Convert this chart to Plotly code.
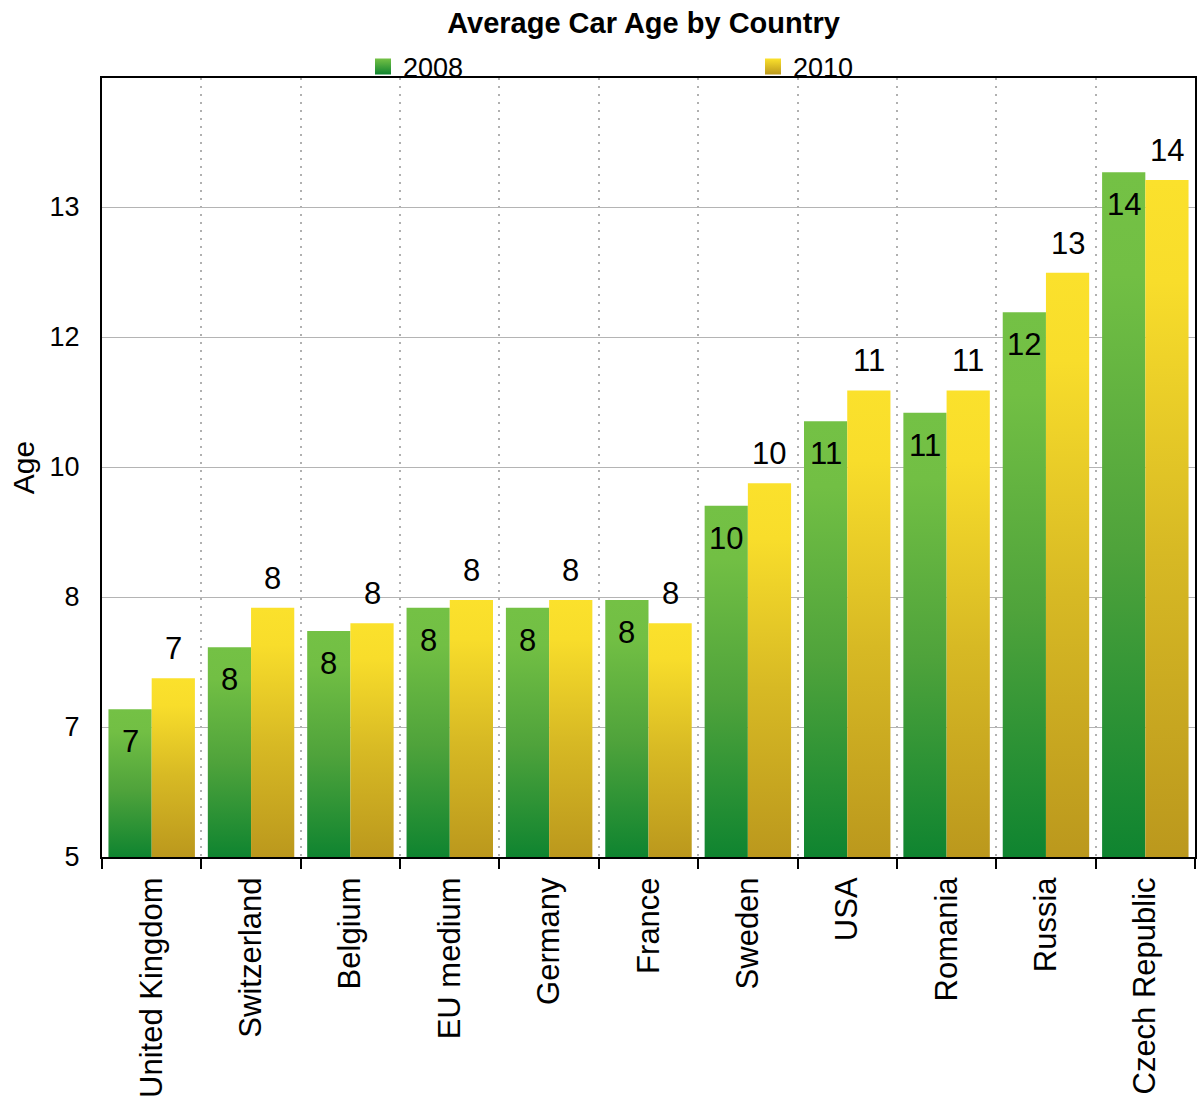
import plotly.graph_objects as go

# Average car age (years) per country
countries = ["United Kingdom", "Switzerland", "Belgium", "EU medium", "Germany",
             "France", "Sweden", "USA", "Romania", "Russia", "Czech Republic"]
age_2008 = [6.91, 7.71, 7.92, 8.22, 8.22, 8.32, 9.54, 10.63, 10.74, 12.04, 13.85]
age_2010 = [7.31, 8.22, 8.02, 8.32, 8.32, 8.02, 9.83, 11.03, 11.03, 12.55, 13.75]
years = ["2008", "2010"]

# value axis: starts at 5, gridlines every 1.68 years, labels rounded
Y_MIN = 5
Y_STEP = 1.68
Y_MAX = 15.067

FONT = "Arial, 'Liberation Sans', sans-serif"
BAR_W = 0.435  # width of one bar, in category units

green_scale = [[0, "#0f8430"], [0.45, "#4fa33b"], [0.85, "#72bf44"], [1, "#74c145"]]
gold_scale = [[0, "#bb981d"], [0.45, "#d7b924"], [0.85, "#f8dd2b"], [1, "#fbe12c"]]

fig = go.Figure()
annotations = []

series = [
    (years[0], age_2008, green_scale, -BAR_W, "legend", "top", -13),
    (years[1], age_2010, gold_scale, 0.0, "legend2", "bottom", 10),
]

for name, values, scale, offset, legend_id, anchor, shift in series:
    for i, v in enumerate(values):
        x0 = i + offset
        x1 = x0 + BAR_W
        # each bar is a filled rectangle with its own vertical gradient
        fig.add_trace(go.Scatter(
            x=[x0, x0, x1, x1, x0],
            y=[Y_MIN, v, v, Y_MIN, Y_MIN],
            mode="none",
            fill="toself",
            fillgradient=dict(type="vertical", colorscale=scale, start=Y_MIN, stop=v),
            showlegend=False,
            hoverinfo="skip",
        ))
        annotations.append(dict(
            x=(x0 + x1) / 2, y=v, xref="x", yref="y",
            text=f"{v:.0f}", showarrow=False,
            yanchor=anchor, yshift=shift,
            font=dict(family=FONT, size=31, color="black"),
        ))
    # legend swatch for the series
    fig.add_trace(go.Scatter(
        x=[None], y=[None], mode="markers", name=name, legend=legend_id,
        marker=dict(symbol="square", size=16, color=scale[-1][1],
                    gradient=dict(type="vertical", color=scale[0][1]),
                    line=dict(width=0)),
    ))

legend_common = dict(
    xref="container", yref="container", xanchor="left", yanchor="middle",
    y=1 - 67 / 1101, orientation="h", bgcolor="rgba(0,0,0,0)", borderwidth=0,
    font=dict(family=FONT, size=27, color="black"),
)

fig.update_layout(
    width=1197, height=1101,
    margin=dict(l=102, r=2, t=78, b=244, autoexpand=False),
    paper_bgcolor="white", plot_bgcolor="white",
    font=dict(family=FONT, color="black"),
    title=dict(text="<b>Average Car Age by Country</b>",
               font=dict(family=FONT, size=29, color="black"),
               x=643.5 / 1197, xref="container", xanchor="center",
               y=1 - 23 / 1101, yref="container", yanchor="middle"),
    legend=dict(x=363 / 1197, **legend_common),
    legend2=dict(x=753 / 1197, **legend_common),
    annotations=annotations,
    xaxis=dict(
        range=[-0.5, len(countries) - 0.5],
        tickmode="array", tickvals=list(range(len(countries))), ticktext=countries,
        tickangle=-90, tickfont=dict(family=FONT, size=31, color="black"),
        ticks="outside", ticklen=6, tickcolor="rgba(0,0,0,0)",
        showgrid=False, zeroline=False,
        showline=True, mirror=True, linecolor="black", linewidth=2,
        minor=dict(tickmode="array",
                   tickvals=[i - 0.5 for i in range(len(countries) + 1)],
                   ticks="outside", ticklen=10, tickwidth=2, tickcolor="black",
                   showgrid=True, gridcolor="#b0b0b0", gridwidth=2, griddash="2px,6px"),
        automargin=False,
    ),
    yaxis=dict(
        range=[Y_MIN, Y_MAX], tickmode="linear", tick0=Y_MIN, dtick=Y_STEP,
        tickformat=".0f", tickfont=dict(family=FONT, size=27, color="black"),
        ticks="outside", ticklen=15, tickcolor="rgba(0,0,0,0)",
        showgrid=True, gridcolor="#b4b4b4", gridwidth=1, zeroline=False,
        showline=True, mirror=True, linecolor="black", linewidth=2,
        title=dict(text="Age", font=dict(family=FONT, size=30, color="black"), standoff=6),
        automargin=False,
    ),
)

fig.write_html("out.html")
